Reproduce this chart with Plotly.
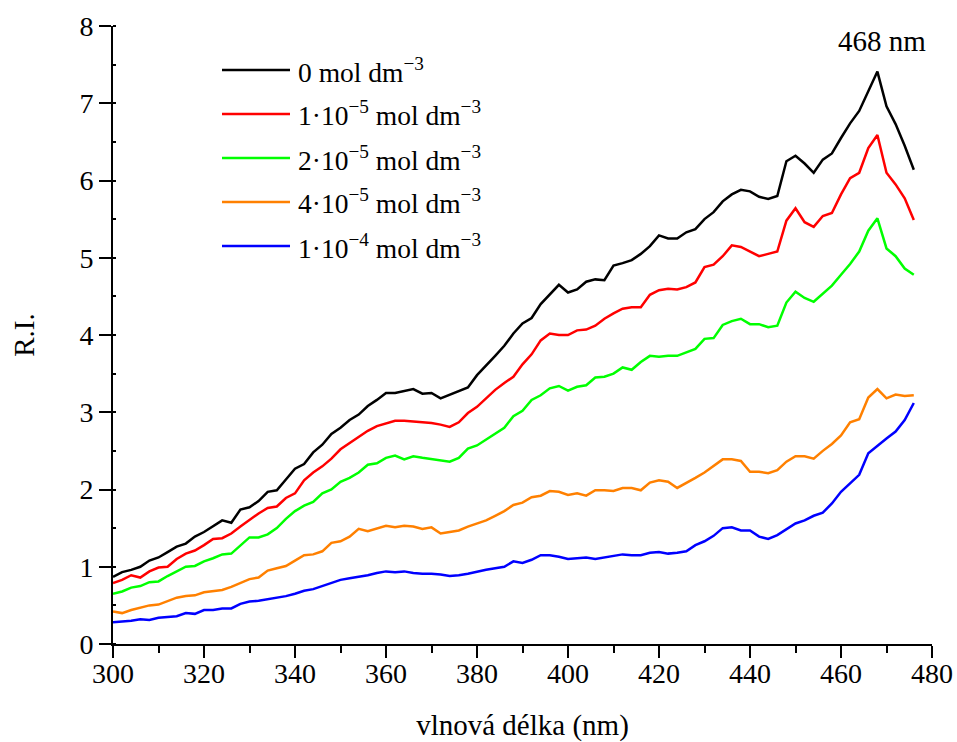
import plotly.graph_objects as go

# Wavelength grid (nm)
wavelength = list(range(300, 478, 2))

# Relative intensity for each concentration
ri_0 = [0.87, 0.93, 0.96, 1.00, 1.08, 1.12, 1.19, 1.26, 1.30, 1.39,
        1.45, 1.52, 1.60, 1.57, 1.74, 1.77, 1.85, 1.97, 1.99, 2.13,
        2.27, 2.33, 2.48, 2.58, 2.72, 2.80, 2.90, 2.97, 3.08, 3.16,
        3.25, 3.25, 3.27, 3.30, 3.24, 3.25, 3.18, 3.23, 3.27, 3.32,
        3.48, 3.60, 3.73, 3.86, 4.02, 4.15, 4.22, 4.40, 4.53, 4.65,
        4.55, 4.59, 4.69, 4.72, 4.71, 4.90, 4.93, 4.97, 5.05, 5.15,
        5.29, 5.25, 5.25, 5.33, 5.37, 5.50, 5.59, 5.73, 5.82, 5.88,
        5.86, 5.79, 5.76, 5.80, 6.25, 6.32, 6.22, 6.10, 6.27, 6.35,
        6.55, 6.74, 6.90, 7.15, 7.41, 6.96, 6.73, 6.45, 6.14]

ri_1e5 = [0.79, 0.83, 0.89, 0.86, 0.94, 0.99, 1.00, 1.10, 1.17, 1.21,
          1.28, 1.36, 1.37, 1.43, 1.52, 1.61, 1.69, 1.76, 1.78, 1.89,
          1.95, 2.12, 2.22, 2.30, 2.40, 2.52, 2.60, 2.69, 2.76, 2.82,
          2.86, 2.89, 2.89, 2.88, 2.87, 2.86, 2.84, 2.81, 2.87, 2.99,
          3.07, 3.18, 3.29, 3.38, 3.46, 3.62, 3.75, 3.93, 4.02, 4.00,
          4.00, 4.06, 4.07, 4.12, 4.21, 4.28, 4.34, 4.36, 4.36, 4.52,
          4.58, 4.60, 4.59, 4.62, 4.68, 4.88, 4.91, 5.02, 5.16, 5.14,
          5.08, 5.02, 5.05, 5.08, 5.48, 5.64, 5.46, 5.40, 5.54, 5.58,
          5.82, 6.03, 6.10, 6.42, 6.59, 6.10, 5.95, 5.77, 5.49]

ri_2e5 = [0.65, 0.68, 0.73, 0.75, 0.80, 0.81, 0.88, 0.94, 1.00, 1.01,
          1.07, 1.11, 1.16, 1.17, 1.27, 1.38, 1.38, 1.42, 1.50, 1.62,
          1.72, 1.79, 1.84, 1.95, 2.00, 2.10, 2.15, 2.22, 2.32, 2.34,
          2.41, 2.44, 2.39, 2.43, 2.41, 2.39, 2.38, 2.36, 2.41, 2.53,
          2.57, 2.65, 2.73, 2.80, 2.95, 3.02, 3.16, 3.22, 3.31, 3.34,
          3.28, 3.33, 3.35, 3.45, 3.46, 3.50, 3.58, 3.55, 3.65, 3.73,
          3.72, 3.73, 3.73, 3.77, 3.82, 3.95, 3.96, 4.13, 4.18, 4.21,
          4.14, 4.14, 4.10, 4.12, 4.42, 4.56, 4.48, 4.43, 4.53, 4.64,
          4.78, 4.92, 5.08, 5.35, 5.51, 5.12, 5.02, 4.86, 4.78]

ri_4e5 = [0.42, 0.40, 0.44, 0.47, 0.50, 0.51, 0.55, 0.60, 0.62, 0.63,
          0.67, 0.69, 0.70, 0.74, 0.79, 0.84, 0.86, 0.95, 0.98, 1.01,
          1.08, 1.15, 1.16, 1.20, 1.31, 1.33, 1.39, 1.49, 1.46, 1.50,
          1.53, 1.51, 1.53, 1.52, 1.49, 1.51, 1.43, 1.45, 1.47, 1.52,
          1.56, 1.60, 1.66, 1.72, 1.80, 1.83, 1.90, 1.92, 1.98, 1.97,
          1.93, 1.95, 1.92, 1.99, 1.99, 1.98, 2.02, 2.02, 1.99, 2.09,
          2.12, 2.10, 2.02, 2.08, 2.15, 2.22, 2.30, 2.39, 2.39, 2.37,
          2.23, 2.23, 2.21, 2.25, 2.36, 2.43, 2.43, 2.40, 2.50, 2.59,
          2.70, 2.87, 2.91, 3.19, 3.30, 3.18, 3.23, 3.21, 3.22]

ri_1e4 = [0.28, 0.29, 0.30, 0.32, 0.31, 0.34, 0.35, 0.36, 0.40, 0.39,
          0.44, 0.44, 0.46, 0.46, 0.52, 0.55, 0.56, 0.58, 0.60, 0.62,
          0.65, 0.69, 0.71, 0.75, 0.79, 0.83, 0.85, 0.87, 0.89, 0.92,
          0.94, 0.93, 0.94, 0.92, 0.91, 0.91, 0.90, 0.88, 0.89, 0.91,
          0.94, 0.96, 0.98, 1.00, 1.07, 1.05, 1.09, 1.15, 1.15, 1.13,
          1.10, 1.11, 1.12, 1.10, 1.12, 1.14, 1.16, 1.15, 1.15, 1.18,
          1.19, 1.17, 1.18, 1.20, 1.28, 1.33, 1.40, 1.50, 1.51, 1.47,
          1.47, 1.39, 1.36, 1.41, 1.48, 1.56, 1.60, 1.66, 1.70, 1.82,
          1.97, 2.08, 2.19, 2.47, 2.57, 2.66, 2.75, 2.90, 3.12]

series = [ri_0, ri_1e5, ri_2e5, ri_4e5, ri_1e4]
labels = [
    "0 mol dm<sup>\u22123</sup>",
    "1\u00b710<sup>\u22125</sup> mol dm<sup>\u22123</sup>",
    "2\u00b710<sup>\u22125</sup> mol dm<sup>\u22123</sup>",
    "4\u00b710<sup>\u22125</sup> mol dm<sup>\u22123</sup>",
    "1\u00b710<sup>\u22124</sup> mol dm<sup>\u22123</sup>",
]
colors = ["#000000", "#ff0000", "#00ff00", "#ff8000", "#0000ff"]

peak_nm = 468
peak_label = "468 nm"

FONT = "Liberation Serif, Times New Roman, serif"

fig = go.Figure()
for ys, name, col in zip(series, labels, colors):
    fig.add_trace(go.Scatter(x=wavelength, y=ys, mode="lines", name=name,
                             line=dict(color=col, width=2.5), showlegend=False))

# Hand-placed legend: line sample + label per series
shapes = []
annotations = []
W_PLOT, H_PLOT = 819, 618
for i, (name, col) in enumerate(zip(labels, colors)):
    yp = 70 + 44 * i
    ypaper = (644 - yp) / H_PLOT
    shapes.append(dict(type="line", xref="paper", yref="paper",
                       x0=(222 - 113) / W_PLOT, x1=(290 - 113) / W_PLOT,
                       y0=ypaper, y1=ypaper,
                       line=dict(color=col, width=2.5)))
    annotations.append(dict(xref="paper", yref="paper",
                            x=(296 - 113) / W_PLOT, y=ypaper,
                            xanchor="left", yanchor="middle",
                            text=name, showarrow=False,
                            font=dict(family=FONT, size=27.5, color="black")))

# Peak label
annotations.append(dict(x=peak_nm, y=max(ri_0), xref="x", yref="y",
                        text=peak_label, showarrow=False,
                        xanchor="center", yanchor="bottom", yshift=13, xshift=5,
                        font=dict(family=FONT, size=29, color="black")))

fig.update_layout(
    width=957, height=742,
    margin=dict(l=113, r=25, t=26, b=98),
    paper_bgcolor="white", plot_bgcolor="white",
    font=dict(family=FONT, size=28, color="black"),
    shapes=shapes, annotations=annotations,
    showlegend=False,
)

fig.update_xaxes(
    range=[300, 480], dtick=20, tick0=300, automargin=False,
    showgrid=False, zeroline=False,
    showline=True, linecolor="black", linewidth=2,
    ticks="outside", ticklen=12, tickwidth=2, tickcolor="black",
    minor=dict(dtick=10, ticks="outside", ticklen=7, tickwidth=2, tickcolor="black"),
    tickfont=dict(family=FONT, size=28), ticklabelstandoff=-9,
    title=dict(text="vlnová délka (nm)", font=dict(family=FONT, size=29), standoff=41),
)
fig.update_yaxes(
    range=[0, 8], dtick=1, tick0=0, automargin=False,
    showgrid=False, zeroline=False,
    showline=True, linecolor="black", linewidth=2,
    ticks="outside", ticklen=12, tickwidth=2, tickcolor="black",
    minor=dict(dtick=0.5, ticks="inside", ticklen=3, tickwidth=2, tickcolor="black"),
    tickfont=dict(family=FONT, size=28),
    title=dict(text="R.I.", font=dict(family=FONT, size=29), standoff=36),
)

fig.write_html("out.html")
